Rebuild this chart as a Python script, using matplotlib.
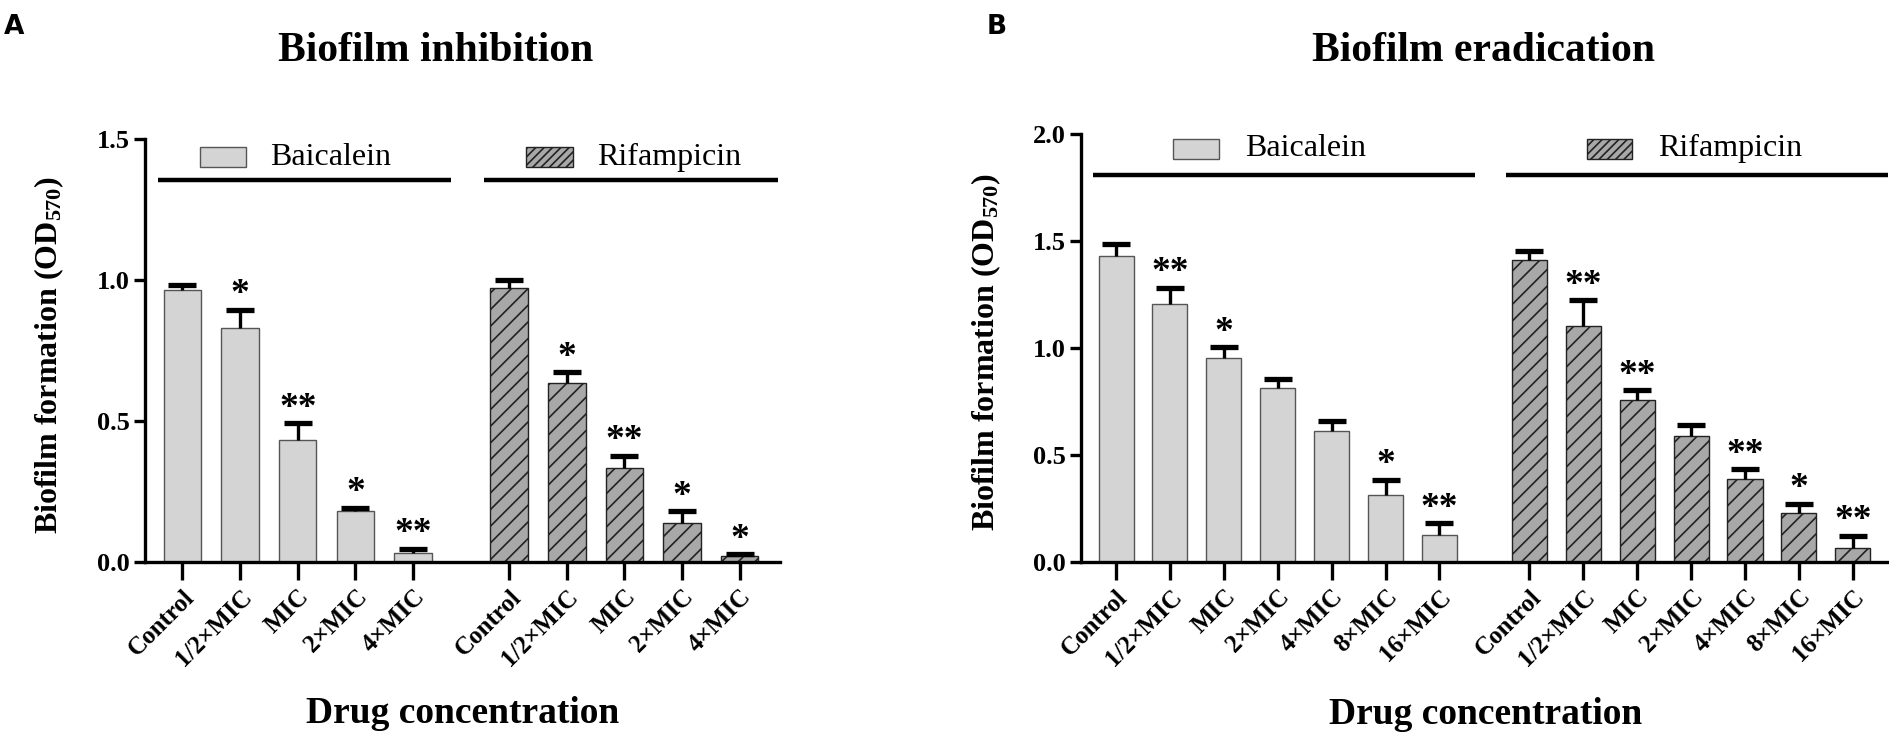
import matplotlib
matplotlib.use("Agg")
import matplotlib.pyplot as plt
from matplotlib.patches import Rectangle
import numpy as np

# Data
labels_inh = ["Control", "1/2×MIC", "MIC", "2×MIC", "4×MIC"]
baic_inh = [0.963, 0.830, 0.431, 0.181, 0.032]
baic_inh_sd = [0.020, 0.063, 0.060, 0.010, 0.013]
baic_inh_sig = ["", "*", "**", "*", "**"]
rif_inh = [0.973, 0.635, 0.333, 0.139, 0.019]
rif_inh_sd = [0.026, 0.037, 0.043, 0.040, 0.008]
rif_inh_sig = ["", "*", "**", "*", "*"]

labels_era = ["Control", "1/2×MIC", "MIC", "2×MIC", "4×MIC", "8×MIC", "16×MIC"]
baic_era = [1.428, 1.206, 0.952, 0.810, 0.612, 0.314, 0.123]
baic_era_sd = [0.058, 0.075, 0.050, 0.044, 0.047, 0.068, 0.057]
baic_era_sig = ["", "**", "*", "", "", "*", "**"]
rif_era = [1.412, 1.100, 0.758, 0.588, 0.389, 0.229, 0.066]
rif_era_sd = [0.039, 0.122, 0.043, 0.053, 0.044, 0.041, 0.054]
rif_era_sig = ["", "**", "**", "", "**", "*", "**"]

serif = "Liberation Serif"
plt.rcParams["font.family"] = [serif, "DejaVu Serif"]
plt.rcParams["mathtext.fontset"] = "custom"
plt.rcParams["mathtext.rm"] = "Liberation Serif:bold"
plt.rcParams["mathtext.it"] = "Liberation Serif:bold"
plt.rcParams["mathtext.bf"] = "Liberation Serif:bold"
plt.rcParams["hatch.linewidth"] = 1.2

W, H = 1890, 733
fig = plt.figure(figsize=(W / 100, H / 100), dpi=100)

BAIC_FC, BAIC_EC = "#d4d4d4", "#555555"
RIF_FC, RIF_EC = "#a8a8a8", "#222222"
GAP = 1.67
BW = 0.65


def panel(ax, labels, b, bsd, bsig, r, rsd, rsig, ymax, xmax, title,
          leg, line_y, title_x, title_y, ylab_x):
    n = len(labels)
    pos_b = np.arange(n)
    pos_r = n - 1 + GAP + np.arange(n)

    ax.bar(pos_b, b, BW, color=BAIC_FC, edgecolor=BAIC_EC, linewidth=1.0, zorder=2)
    ax.bar(pos_r, r, BW, color=RIF_FC, edgecolor=RIF_EC, linewidth=1.0,
           hatch="//", zorder=2)
    for pos, vals, sd in ((pos_b, b, bsd), (pos_r, r, rsd)):
        _, caps, _ = ax.errorbar(pos, vals, yerr=[np.zeros(n), sd], fmt="none",
                                 ecolor="black", elinewidth=2.4, capsize=10,
                                 capthick=3.8, zorder=3)
        caps[0].set_visible(False)  # only the upper cap, as in the original

    for pos, vals, sd, sig in ((pos_b, b, bsd, bsig), (pos_r, r, rsd, rsig)):
        for x, v, s, t in zip(pos, vals, sd, sig):
            if t:
                ax.annotate(t, (x, v + s), xytext=(0, 4), textcoords="offset points",
                            ha="center", va="baseline", fontsize=27,
                            fontweight="bold", family=serif, zorder=4)

    # group brackets and legend boxes
    for pos, fc, ec, hatch, name in ((pos_b, BAIC_FC, BAIC_EC, None, "Baicalein"),
                                     (pos_r, RIF_FC, RIF_EC, "////", "Rifampicin")):
        ax.plot([pos[0] - 0.43, pos[-1] + 0.66], [line_y, line_y], color="black",
                lw=3.2, clip_on=False, solid_capstyle="butt")
        ax.add_patch(Rectangle((pos[0] + leg[2], leg[0]), leg[3], leg[1] - leg[0],
                               facecolor=fc, edgecolor=ec, lw=1.0, hatch=hatch,
                               clip_on=False))
        ax.text(pos[0] + leg[4], (leg[0] + leg[1]) / 2, name, fontsize=23,
                family=serif, ha="left", va="center")

    ax.set_xlim(-0.65, xmax)
    ax.set_ylim(0, ymax)
    yt = np.arange(0, ymax + 0.01, 0.5)
    ax.set_yticks(yt)
    ax.set_yticklabels([f"{t:.1f}" for t in yt], fontsize=19, fontweight="bold",
                       family=serif)
    ax.set_xticks(np.concatenate([pos_b, pos_r]))
    ax.set_xticklabels(labels + labels, rotation=45, ha="right",
                       rotation_mode="anchor", fontsize=18, fontweight="bold",
                       family=serif)
    for sp in ("top", "right"):
        ax.spines[sp].set_visible(False)
    for sp in ("left", "bottom"):
        ax.spines[sp].set_linewidth(2.4)
    ax.tick_params(axis="y", length=8, width=2.4, pad=3)
    ax.tick_params(axis="x", length=13, width=2.4, pad=4)

    ax.set_ylabel(r"Biofilm formation (OD$_{570}$)", fontsize=23, fontweight="bold",
                  family=serif)
    ax.yaxis.set_label_coords(ylab_x, 0.49)
    ax.text(0.5, -0.358, "Drug concentration", transform=ax.transAxes,
            fontsize=27, fontweight="bold", family=serif, ha="center", va="center")
    ax.text(title_x, title_y, title, transform=ax.transAxes, fontsize=30,
            fontweight="bold", family=serif, ha="center", va="center")


axA = fig.add_axes([145 / W, 1 - 561.7 / H, 635 / W, 422.7 / H])
panel(axA, labels_inh, baic_inh, baic_inh_sd, baic_inh_sig,
      rif_inh, rif_inh_sd, rif_inh_sig, 1.5, 10.37, "Biofilm inhibition",
      (1.400, 1.471, 0.30, 0.80, 1.52), 1.354, 0.458, 1.208, -0.125)

axB = fig.add_axes([1081 / W, 1 - 561.7 / H, 809 / W, 427.7 / H])
panel(axB, labels_era, baic_era, baic_era_sd, baic_era_sig,
      rif_era, rif_era_sd, rif_era_sig, 2.0, 14.36, "Biofilm eradication",
      (1.885, 1.975, 1.06, 0.85, 2.39), 1.81, 0.497, 1.194, -0.096)

for x, letter in ((14, "A"), (997, "B")):
    fig.text(x / W, 1 - 27 / H, letter, fontsize=19, fontweight="bold",
             family=["Liberation Sans Narrow", "DejaVu Sans"],
             ha="center", va="center")

fig.savefig("out.png", dpi=100)
